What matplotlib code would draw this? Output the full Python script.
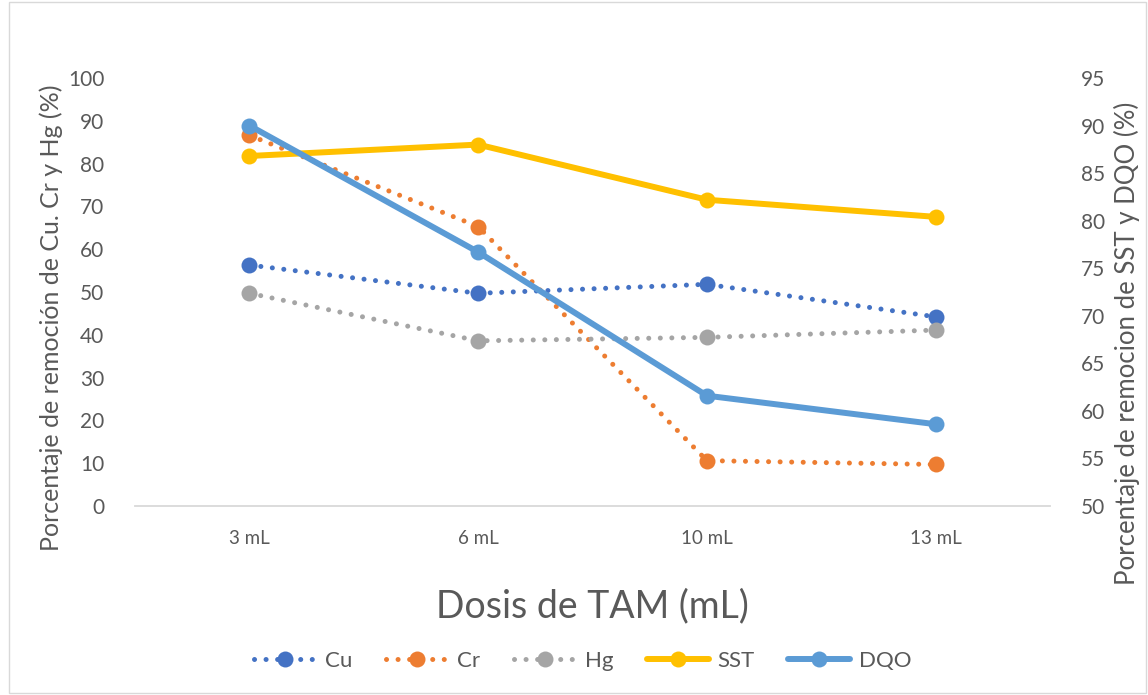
import matplotlib
matplotlib.use("Agg")
import matplotlib.pyplot as plt
from matplotlib.patches import Rectangle

plt.rcParams['font.family'] = ['Lato', 'DejaVu Sans']

doses = ["3 mL", "6 mL", "10 mL", "13 mL"]
cu = [56.3, 49.7, 51.8, 44.2]
cr = [86.6, 65.3, 10.6, 9.7]
hg = [49.7, 38.6, 39.4, 41.1]
sst = [86.8, 88.0, 82.2, 80.4]
dqo = [90.0, 76.7, 61.6, 58.6]

left_ticks = list(range(0, 101, 10))
right_ticks = list(range(50, 96, 5))

C_CU = "#4472C4"
C_CR = "#ED7D31"
C_HG = "#A5A5A5"
C_SST = "#FFC000"
C_DQO = "#5B9BD5"
TXT = "#595959"

fig = plt.figure(figsize=(11.48, 6.95), dpi=100)
fig.patches.append(Rectangle((0.008, 0.003), 0.99, 0.994, transform=fig.transFigure,
                             fill=False, edgecolor="#D9D9D9", linewidth=1.0))

ax = fig.add_axes([135 / 1148, 1 - 506 / 695, (1050 - 135) / 1148, (506 - 78) / 695])
ax2 = ax.twinx()

x = list(range(len(doses)))
dot = (0, (0.01, 2.3))

lines = []
for vals, col, name in [(cu, C_CU, "Cu"), (cr, C_CR, "Cr"), (hg, C_HG, "Hg")]:
    ln, = ax.plot(x, vals, color=col, linestyle=dot, linewidth=3.6,
                  dash_capstyle="round", marker="o", markersize=11.5,
                  markeredgewidth=0, label=name, zorder=3)
    lines.append(ln)
for vals, col, name in [(sst, C_SST, "SST"), (dqo, C_DQO, "DQO")]:
    ln, = ax2.plot(x, vals, color=col, linestyle="-", linewidth=4.3,
                   solid_capstyle="round", marker="o", markersize=11.5,
                   markeredgewidth=0, label=name, zorder=3)
    lines.append(ln)

ax.set_xlim(-0.5, len(doses) - 0.5)
ax.set_ylim(0, 100)
ax2.set_ylim(50, 95)
ax.set_yticks(left_ticks)
ax2.set_yticks(right_ticks)
ax.set_xticks(x)
ax.set_xticklabels(doses)

for a in (ax, ax2):
    for s in a.spines.values():
        s.set_visible(False)
    a.tick_params(length=0, labelsize=15, colors=TXT)
ax.spines["bottom"].set_visible(True)
ax.spines["bottom"].set_color("#D9D9D9")
ax.spines["bottom"].set_linewidth(1.3)
ax.tick_params(axis="x", pad=17, labelsize=13.5)
ax.tick_params(axis="y", pad=22)
ax2.tick_params(axis="y", pad=22)

ax.set_ylabel("Porcentaje de remoción de Cu. Cr y Hg (%)", fontsize=18, color=TXT)
ax2.set_ylabel("Porcentaje de remocion de SST y DQO (%)", fontsize=18.5, color=TXT)
ax.yaxis.set_label_coords(-72 / 915, 0.44)
ax2.yaxis.set_label_coords(1 + 64 / 915, 0.38)
ax.set_xlabel("Dosis de TAM (mL)", fontsize=27, color=TXT, labelpad=30)

fig.legend(handles=lines, loc="center", bbox_to_anchor=(583 / 1148, 1 - 661 / 695),
           ncol=5, frameon=False, fontsize=16, handlelength=2.8, columnspacing=1.5,
           handletextpad=0.4, labelcolor=TXT)

fig.savefig("out.png", dpi=100)
